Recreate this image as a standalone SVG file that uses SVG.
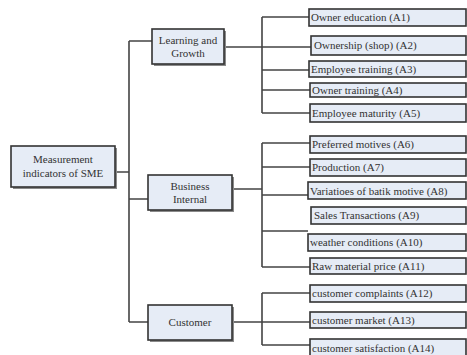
<svg xmlns="http://www.w3.org/2000/svg" width="467" height="355" viewBox="0 0 467 355">
<style>
.box{fill:#e6ecf6;stroke:#333;stroke-width:1.6}
.sh{fill:#8a8a8a}
.t{font-family:"Liberation Serif","Times New Roman",serif;font-size:11px;fill:#333}
.c{text-anchor:middle}
.ln{fill:none;stroke:#444;stroke-width:1.6}
</style>
<rect width="467" height="355" fill="#fff"/>
<g id="connectors">
<path class="ln" d="M115 172H129M129 41V322M129 41H152M129 199H148M129 322H148"/>
<path class="ln" d="M224 47H311M262 17V113M262 17H309M262 70H309M262 90H310M262 113H310"/>
<path class="ln" d="M232 189H262M262 143V267M262 143H310M262 167H310M262 195H308M262 231H308M262 267H310"/>
<path class="ln" d="M232 322H310M262 293V345M262 293H310M262 345H310"/>
</g>
<g id="root"><rect class="sh" x="13" y="148" width="104" height="41"/><rect class="box" x="11" y="146" width="104" height="41"/>
<text class="t c" x="63" y="163">Measurement</text><text class="t c" x="63" y="177">indicators of SME</text></g>
<g id="learning"><rect class="sh" x="154" y="31" width="72" height="35"/><rect class="box" x="152" y="29" width="72" height="35"/>
<text class="t c" x="188" y="44">Learning and</text><text class="t c" x="188" y="57">Growth</text></g>
<g id="business"><rect class="sh" x="150" y="177" width="84" height="35"/><rect class="box" x="148" y="175" width="84" height="35"/>
<text class="t c" x="190" y="190">Business</text><text class="t c" x="190" y="203">Internal</text></g>
<g id="customer"><rect class="sh" x="150" y="307" width="84" height="35"/><rect class="box" x="148" y="305" width="84" height="35"/>
<text class="t c" x="190" y="326">Customer</text></g>
<g id="a1"><rect class="box" x="309" y="9" width="157" height="17"/><text class="t" x="311" y="21">Owner education (A1)</text></g>
<g id="a2"><rect class="box" x="311" y="36" width="155" height="19"/><text class="t" x="314" y="49">Ownership (shop) (A2)</text></g>
<g id="a3"><rect class="box" x="309" y="61" width="157" height="16"/><text class="t" x="311" y="73">Employee training (A3)</text></g>
<g id="a4"><rect class="box" x="310" y="83" width="156" height="14"/><text class="t" x="312" y="94">Owner training (A4)</text></g>
<g id="a5"><rect class="box" x="310" y="104" width="156" height="18"/><text class="t" x="312" y="117">Employee maturity (A5)</text></g>
<g id="a6"><rect class="box" x="310" y="136" width="156" height="17"/><text class="t" x="312" y="148">Preferred motives (A6)</text></g>
<g id="a7"><rect class="box" x="310" y="159" width="156" height="17"/><text class="t" x="312" y="171">Production (A7)</text></g>
<g id="a8"><rect class="box" x="308" y="182" width="158" height="17"/><text class="t" x="310" y="195">Variatioes of batik motive (A8)</text></g>
<g id="a9"><rect class="box" x="311" y="207" width="155" height="17"/><text class="t" x="314" y="219">Sales Transactions (A9)</text></g>
<g id="a10"><rect class="box" x="308" y="234" width="158" height="17"/><text class="t" x="310" y="246">weather conditions (A10)</text></g>
<g id="a11"><rect class="box" x="310" y="258" width="156" height="16"/><text class="t" x="312" y="270">Raw material price (A11)</text></g>
<g id="a12"><rect class="box" x="310" y="285" width="156" height="17"/><text class="t" x="312" y="297">customer complaints (A12)</text></g>
<g id="a13"><rect class="box" x="310" y="312" width="156" height="16"/><text class="t" x="312" y="324">customer market (A13)</text></g>
<g id="a14"><rect class="box" x="310" y="339" width="156" height="18"/><text class="t" x="312" y="352">customer satisfaction (A14)</text></g>
</svg>
